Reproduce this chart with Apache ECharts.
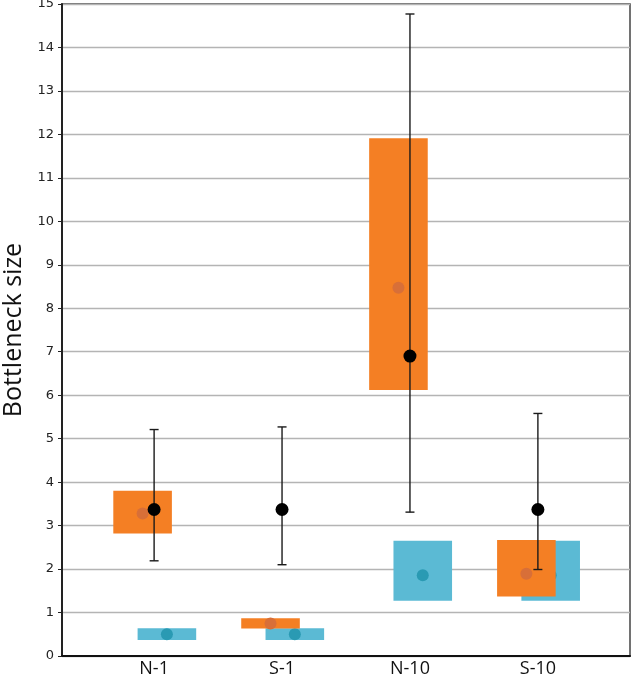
<!DOCTYPE html>
<html>
<head>
<meta charset="utf-8">
<script src="https://cdn.jsdelivr.net/npm/echarts@6/dist/echarts.min.js"></script>
<style>html,body{margin:0;padding:0;background:#fff}#c{width:631px;height:689px}</style>
</head>
<body>
<div id="c"></div>
<script>
// ---- data ----
const categories = ['N-1', 'S-1', 'N-10', 'S-10'];
const orangeLow  = [2.82, 0.63, 6.12, 1.37];
const orangeHigh = [3.80, 0.87, 11.91, 2.67];
const orangeMid  = [3.28, 0.75, 8.47, 1.89];
const blueLow    = [0.37, 0.37, 1.27, 1.27];
const blueHigh   = [0.64, 0.64, 2.65, 2.65];
const blueMid    = [0.50, 0.50, 1.86, 1.86];
const meanVal    = [3.37, 3.37, 6.90, 3.37];
const errLow     = [2.19, 2.10, 3.31, 1.99];
const errHigh    = [5.21, 5.27, 14.77, 5.58];
const yTicks     = [0, 1, 2, 3, 4, 5, 6, 7, 8, 9, 10, 11, 12, 13, 14, 15];

// ---- layout constants ----
const ORANGE_OFF = -0.09, BLUE_OFF = 0.10, BOX_W = 0.458;
const ORANGE = '#f47f24', ORANGE_DOT = '#d86f38';
const BLUE = '#5bbad4', BLUE_DOT = '#2a9ab3';

const boxData = (lo, hi, off) => categories.map((c, i) => [i + 1 + off, lo[i], hi[i]]);
const dotData = (v, off) => categories.map((c, i) => [i + 1 + off, v[i]]);

function boxRender(color) {
  return function (params, api) {
    const x = api.value(0), lo = api.value(1), hi = api.value(2);
    const p1 = api.coord([x - BOX_W / 2, hi]);
    const p2 = api.coord([x + BOX_W / 2, lo]);
    return { type: 'rect', shape: { x: p1[0], y: p1[1], width: p2[0] - p1[0], height: p2[1] - p1[1] }, style: { fill: color } };
  };
}

function errRender(params, api) {
  const x = api.value(0), lo = api.value(1), hi = api.value(2);
  const a = api.coord([x, hi]), b = api.coord([x, lo]);
  const cw = 4.5;
  const st = { stroke: '#1a1a1a', lineWidth: 1.4 };
  return {
    type: 'group', children: [
      { type: 'line', shape: { x1: a[0], y1: a[1], x2: b[0], y2: b[1] }, style: st },
      { type: 'line', shape: { x1: a[0] - cw, y1: a[1], x2: a[0] + cw, y2: a[1] }, style: st },
      { type: 'line', shape: { x1: b[0] - cw, y1: b[1], x2: b[0] + cw, y2: b[1] }, style: st }
    ]
  };
}

const chart = echarts.init(document.getElementById('c'));
chart.setOption({
  animation: false,
  grid: { left: 62, right: 1, top: 4, bottom: 33, containLabel: false, outerBoundsMode: 'none',
    show: true, borderColor: '#444', borderWidth: 1.5 },
  xAxis: {
    type: 'value', min: 0.28, max: 4.72,
    splitLine: { show: false },
    axisLine: { show: true, onZero: false, lineStyle: { color: '#111', width: 2 } },
    axisTick: { show: false },
    axisLabel: {
      customValues: [1, 2, 3, 4],
      formatter: v => categories[Math.round(v) - 1] || '',
      fontSize: 18, color: '#111', margin: 4, fontFamily: 'Open Sans'
    }
  },
  yAxis: {
    type: 'value', min: 0, max: 15, interval: 1,
    name: 'Bottleneck size', nameLocation: 'middle', nameGap: 33,
    nameTextStyle: { fontSize: 25, color: '#111', fontFamily: 'Open Sans' },
    axisLine: { show: true, lineStyle: { color: '#222', width: 2 } },
    axisTick: { show: true, length: 4, lineStyle: { color: '#222' } },
    axisLabel: { fontSize: 13, color: '#222', margin: 8, fontFamily: 'DejaVu Sans',
      formatter: v => (yTicks.indexOf(v) >= 0 ? String(v) : '') },
    splitLine: { show: true, lineStyle: { color: '#b4b4b4', width: 1.3 } }
  },
  series: [
    { type: 'custom', z: 1, renderItem: boxRender(BLUE), data: boxData(blueLow, blueHigh, BLUE_OFF), encode: { x: 0, y: [1, 2] } },
    { type: 'scatter', z: 2, symbolSize: 12, itemStyle: { color: BLUE_DOT, opacity: 1 }, data: dotData(blueMid, BLUE_OFF) },
    { type: 'custom', z: 3, renderItem: boxRender(ORANGE), data: boxData(orangeLow, orangeHigh, ORANGE_OFF), encode: { x: 0, y: [1, 2] } },
    { type: 'scatter', z: 4, symbolSize: 12, itemStyle: { color: ORANGE_DOT, opacity: 1 }, data: dotData(orangeMid, ORANGE_OFF) },
    { type: 'custom', z: 5, renderItem: errRender, data: categories.map((c, i) => [i + 1, errLow[i], errHigh[i]]), encode: { x: 0, y: [1, 2] } },
    { type: 'scatter', z: 6, symbolSize: 13, itemStyle: { color: '#000', opacity: 1 }, data: dotData(meanVal, 0) }
  ]
});
</script>
</body>
</html>
